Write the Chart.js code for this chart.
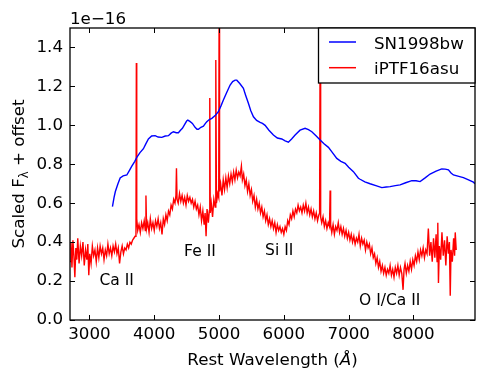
<!DOCTYPE html>
<html>
<head>
<meta charset="utf-8">
<script src="https://cdn.jsdelivr.net/npm/chart.js@4/dist/chart.umd.min.js"></script>
<style>
  html, body { margin: 0; padding: 0; background: #fff; }
  #wrap { width: 485px; height: 384px; position: relative; }
</style>
</head>
<body>
<div id="wrap"><canvas id="c" width="485" height="384"></canvas></div>
<script>
// ---- Data (flux in units of 1e-16) ----
const seriesNames = ["SN1998bw", "iPTF16asu"];
const xTicks = [3000, 4000, 5000, 6000, 7000, 8000];
const yTicks = [0.0, 0.2, 0.4, 0.6, 0.8, 1.0, 1.2, 1.4];
const offsetLabel = "1e\u221216";

const blueWave = [3355,3380,3400,3440,3474,3520,3577,3620,3654,3700,3731,3780,3833,3870,3910,3960,4014,4060,4117,4170,4219,4260,4296,4340,4373,4405,4435,4470,4500,4518,4550,4589,4630,4660,4682,4720,4759,4790,4811,4850,4889,4940,4990,5030,5067,5120,5171,5210,5248,5274,5320,5376,5410,5453,5490,5531,5580,5634,5670,5711,5770,5839,5900,5968,6020,6070,6120,6174,6250,6328,6380,6432,6500,6560,6620,6688,6750,6817,6880,6946,7000,7074,7151,7177,7250,7331,7420,7512,7580,7640,7720,7794,7880,7975,8040,8103,8180,8257,8350,8437,8490,8540,8580,8617,8700,8771,8850,8925,8950];
const blueFlux = [0.583,0.63,0.66,0.70,0.73,0.74,0.745,0.77,0.79,0.815,0.836,0.86,0.88,0.905,0.93,0.945,0.947,0.94,0.938,0.945,0.947,0.96,0.967,0.962,0.962,0.975,0.985,1.005,1.022,1.027,1.02,1.01,0.99,0.98,0.98,0.99,0.996,1.01,1.018,1.03,1.036,1.05,1.07,1.10,1.13,1.17,1.207,1.225,1.232,1.232,1.215,1.19,1.155,1.113,1.075,1.044,1.025,1.015,1.01,1.0,0.975,0.95,0.935,0.93,0.92,0.913,0.93,0.95,0.975,0.985,0.978,0.967,0.945,0.925,0.905,0.887,0.86,0.83,0.815,0.805,0.785,0.762,0.728,0.723,0.71,0.70,0.69,0.68,0.683,0.685,0.69,0.694,0.705,0.716,0.715,0.711,0.73,0.75,0.765,0.776,0.775,0.771,0.755,0.745,0.738,0.731,0.72,0.708,0.70];

const redWave = [2700,2715,2730,2745,2760,2775,2790,2805,2820,2840,2860,2880,2900,2920,2940,2960,2975,2990,3005,3025,3045,3065,3085,3105,3125,3145,3165,3185,3205,3225,3245,3265,3285,3305,3325,3345,3365,3385,3405,3425,3445,3465,3485,3505,3525,3545,3565,3585,3605,3625,3645,3665,3685,3705,3718,3724,3730,3745,3765,3785,3805,3825,3845,3862,3872,3882,3900,3920,3940,3960,3980,4000,4020,4040,4060,4080,4100,4120,4140,4160,4180,4200,4220,4240,4260,4280,4300,4320,4335,4343,4352,4370,4390,4410,4430,4450,4470,4490,4510,4530,4550,4570,4590,4610,4630,4650,4670,4690,4710,4730,4750,4770,4785,4800,4815,4835,4850,4857,4864,4880,4900,4920,4940,4950,4960,4980,4995,5001,5008,5025,5045,5065,5085,5105,5125,5145,5165,5185,5205,5225,5245,5265,5285,5305,5325,5345,5360,5380,5400,5420,5440,5460,5480,5500,5520,5540,5560,5580,5600,5620,5640,5660,5680,5700,5720,5740,5760,5780,5800,5820,5840,5860,5880,5900,5920,5940,5960,5980,6000,6020,6040,6060,6080,6100,6120,6140,6160,6180,6200,6220,6240,6260,6280,6300,6320,6340,6360,6380,6400,6420,6440,6460,6480,6500,6520,6540,6552,6560,6568,6585,6605,6625,6645,6665,6685,6705,6714,6722,6740,6760,6780,6800,6820,6840,6860,6880,6900,6920,6940,6960,6980,7000,7020,7040,7060,7080,7100,7120,7140,7160,7180,7200,7220,7240,7260,7280,7300,7320,7340,7360,7380,7400,7420,7440,7460,7480,7500,7520,7540,7560,7580,7600,7620,7640,7660,7680,7700,7720,7740,7760,7780,7800,7820,7840,7855,7870,7890,7910,7930,7950,7970,7990,8010,8030,8050,8070,8090,8110,8130,8150,8170,8190,8210,8230,8250,8270,8290,8310,8330,8350,8365,8376,8386,8400,8420,8440,8460,8480,8500,8520,8540,8555,8568,8580,8600,8620,8635,8645,8660];
const redFlux = [0.30,0.40,0.27,0.41,0.33,0.22,0.37,0.31,0.42,0.29,0.38,0.33,0.40,0.28,0.36,0.31,0.39,0.23,0.34,0.29,0.38,0.33,0.36,0.30,0.37,0.32,0.38,0.34,0.37,0.31,0.36,0.33,0.39,0.34,0.37,0.33,0.38,0.35,0.39,0.34,0.37,0.29,0.35,0.38,0.34,0.37,0.36,0.39,0.37,0.40,0.39,0.41,0.42,0.43,0.44,1.32,0.52,0.46,0.49,0.45,0.50,0.47,0.51,0.46,0.64,0.47,0.50,0.45,0.52,0.47,0.50,0.46,0.51,0.48,0.52,0.47,0.50,0.44,0.52,0.49,0.54,0.51,0.56,0.54,0.59,0.57,0.62,0.60,0.64,0.78,0.62,0.60,0.65,0.61,0.64,0.60,0.63,0.59,0.64,0.61,0.63,0.60,0.62,0.58,0.61,0.57,0.59,0.54,0.58,0.51,0.56,0.49,0.55,0.43,0.57,0.50,0.56,1.14,0.55,0.60,0.53,0.62,0.58,1.335,0.60,0.65,0.63,1.60,0.66,0.70,0.64,0.72,0.67,0.73,0.68,0.74,0.70,0.75,0.71,0.76,0.72,0.77,0.73,0.76,0.74,0.79,0.72,0.75,0.69,0.72,0.66,0.70,0.64,0.67,0.61,0.64,0.58,0.62,0.57,0.60,0.55,0.58,0.53,0.56,0.51,0.54,0.49,0.52,0.48,0.51,0.47,0.50,0.45,0.49,0.46,0.48,0.45,0.47,0.44,0.48,0.46,0.51,0.49,0.54,0.52,0.56,0.53,0.57,0.55,0.59,0.56,0.58,0.55,0.59,0.56,0.60,0.55,0.58,0.54,0.57,0.53,0.56,0.52,0.55,0.51,0.54,0.55,1.45,0.53,0.50,0.53,0.48,0.51,0.47,0.50,0.48,0.665,0.49,0.45,0.49,0.44,0.48,0.46,0.50,0.45,0.48,0.44,0.47,0.43,0.46,0.42,0.45,0.41,0.44,0.40,0.43,0.39,0.42,0.40,0.44,0.38,0.42,0.39,0.41,0.36,0.40,0.37,0.39,0.34,0.37,0.32,0.34,0.29,0.32,0.27,0.30,0.25,0.28,0.24,0.27,0.23,0.26,0.24,0.28,0.23,0.26,0.22,0.27,0.24,0.28,0.23,0.27,0.24,0.155,0.26,0.29,0.24,0.28,0.25,0.30,0.26,0.31,0.28,0.33,0.30,0.35,0.31,0.36,0.33,0.37,0.32,0.36,0.34,0.47,0.33,0.40,0.30,0.42,0.32,0.44,0.30,0.50,0.19,0.38,0.31,0.45,0.33,0.41,0.28,0.43,0.34,0.40,0.125,0.36,0.30,0.42,0.33,0.45,0.36];

const lineLabels = ["Ca II", "Fe II", "Si II", "O I/Ca II"];
const lineLabelWave = [3154, 4461, 5711, 7161];
const lineLabelFlux = [0.181, 0.33, 0.335, 0.078];

const colors = ["#0000ff", "#ff0000"];
const FONT = "'DejaVu Sans', sans-serif";
const FS = 16.7;

function pts(xs, ys) { return xs.map((x, i) => ({ x: x, y: ys[i] })); }

const decor = {
  id: 'decor',
  afterDatasetsDraw(chart) {
    const ctx = chart.ctx, ca = chart.chartArea;
    const xs = chart.scales.x, ys = chart.scales.y;
    ctx.save();
    // inward tick marks on all four sides
    ctx.strokeStyle = '#000'; ctx.lineWidth = 1;
    const TL = 5;
    ctx.beginPath();
    xTicks.forEach(v => {
      const px = Math.round(xs.getPixelForValue(v)) + 0.5;
      ctx.moveTo(px, ca.bottom); ctx.lineTo(px, ca.bottom - TL);
      ctx.moveTo(px, ca.top); ctx.lineTo(px, ca.top + TL);
    });
    yTicks.forEach(v => {
      const py = Math.round(ys.getPixelForValue(v)) + 0.5;
      ctx.moveTo(ca.left, py); ctx.lineTo(ca.left + TL, py);
      ctx.moveTo(ca.right, py); ctx.lineTo(ca.right - TL, py);
    });
    ctx.stroke();
    // frame
    ctx.lineWidth = 1.3;
    ctx.strokeRect(ca.left, ca.top, ca.right - ca.left, ca.bottom - ca.top);

    // line identification labels
    ctx.fillStyle = '#000';
    ctx.font = '15.5px ' + FONT;
    ctx.textBaseline = 'alphabetic'; ctx.textAlign = 'left';
    lineLabels.forEach((t, i) => {
      ctx.fillText(t, xs.getPixelForValue(lineLabelWave[i]), ys.getPixelForValue(lineLabelFlux[i]));
    });

    // legend box
    const lx = 318.5, ly = ca.top, lw = ca.right - 318.5, lh = 55;
    ctx.fillStyle = '#fff';
    ctx.fillRect(lx, ly, lw, lh);
    ctx.lineWidth = 1.3; ctx.strokeStyle = '#000';
    ctx.strokeRect(lx, ly, lw, lh);
    const rows = [42, 67.7];
    ctx.font = FS + 'px ' + FONT;
    seriesNames.forEach((n, i) => {
      ctx.strokeStyle = colors[i]; ctx.lineWidth = 1.5;
      ctx.beginPath(); ctx.moveTo(329, rows[i]); ctx.lineTo(356, rows[i]); ctx.stroke();
      ctx.fillStyle = '#000';
      ctx.textBaseline = 'alphabetic';
      ctx.fillText(n, 374, rows[i] + 6.5);
    });

    // offset label
    ctx.fillStyle = '#000';
    ctx.font = FS + 'px ' + FONT;
    ctx.fillText(offsetLabel, 70, 24);

    // x title with italic Angstrom
    const p1 = 'Rest Wavelength (', p2 = '\u00C5', p3 = ')';
    ctx.font = FS + 'px ' + FONT;
    const w1 = ctx.measureText(p1).width, w3 = ctx.measureText(p3).width;
    ctx.font = 'italic ' + FS + 'px ' + FONT;
    const w2 = ctx.measureText(p2).width;
    let x0 = (ca.left + ca.right) / 2 - (w1 + w2 + w3) / 2;
    const by = 365;
    ctx.font = FS + 'px ' + FONT; ctx.fillText(p1, x0, by);
    ctx.font = 'italic ' + FS + 'px ' + FONT; ctx.fillText(p2, x0 + w1, by);
    ctx.font = FS + 'px ' + FONT; ctx.fillText(p3, x0 + w1 + w2, by);

    // y title with subscript lambda
    ctx.translate(24, (ca.top + ca.bottom) / 2);
    ctx.rotate(-Math.PI / 2);
    const q1 = 'Scaled F', q2 = '\u03BB', q3 = ' + offset';
    ctx.font = FS + 'px ' + FONT;
    const v1 = ctx.measureText(q1).width, v3 = ctx.measureText(q3).width;
    ctx.font = (FS * 0.7) + 'px ' + FONT;
    const v2 = ctx.measureText(q2).width;
    let s0 = -(v1 + v2 + v3) / 2;
    ctx.font = FS + 'px ' + FONT; ctx.fillText(q1, s0, 0);
    ctx.font = (FS * 0.7) + 'px ' + FONT; ctx.fillText(q2, s0 + v1, 3.5);
    ctx.font = FS + 'px ' + FONT; ctx.fillText(q3, s0 + v1 + v2, 0);
    ctx.restore();
  }
};

new Chart(document.getElementById('c'), {
  type: 'line',
  data: {
    datasets: [
      { label: seriesNames[0], data: pts(blueWave, blueFlux), borderColor: colors[0], borderWidth: 1.4, pointRadius: 0, tension: 0, fill: false },
      { label: seriesNames[1], data: pts(redWave, redFlux), borderColor: colors[1], borderWidth: 1.4, pointRadius: 0, tension: 0, fill: false }
    ]
  },
  options: {
    responsive: false,
    animation: false,
    layout: { padding: { top: 28, right: 10, left: 0, bottom: 0 } },
    plugins: { legend: { display: false }, tooltip: { enabled: false } },
    scales: {
      x: {
        type: 'linear', min: 2700, max: 8950,
        afterBuildTicks: s => { s.ticks = xTicks.map(v => ({ value: v })); },
        afterFit: s => { s.height = 64; },
        grid: { display: false, drawTicks: false },
        border: { display: false },
        ticks: { color: '#000', font: { family: FONT, size: FS }, padding: 5, maxRotation: 0, autoSkip: false, callback: v => String(v) }
      },
      y: {
        type: 'linear', min: 0, max: 1.5,
        afterBuildTicks: s => { s.ticks = yTicks.map(v => ({ value: v })); },
        afterFit: s => { s.width = 70; },
        grid: { display: false, drawTicks: false },
        border: { display: false },
        ticks: { color: '#000', font: { family: FONT, size: FS }, padding: 7, autoSkip: false, callback: v => Number(v).toFixed(1) }
      }
    }
  },
  plugins: [decor]
});
</script>
</body>
</html>
